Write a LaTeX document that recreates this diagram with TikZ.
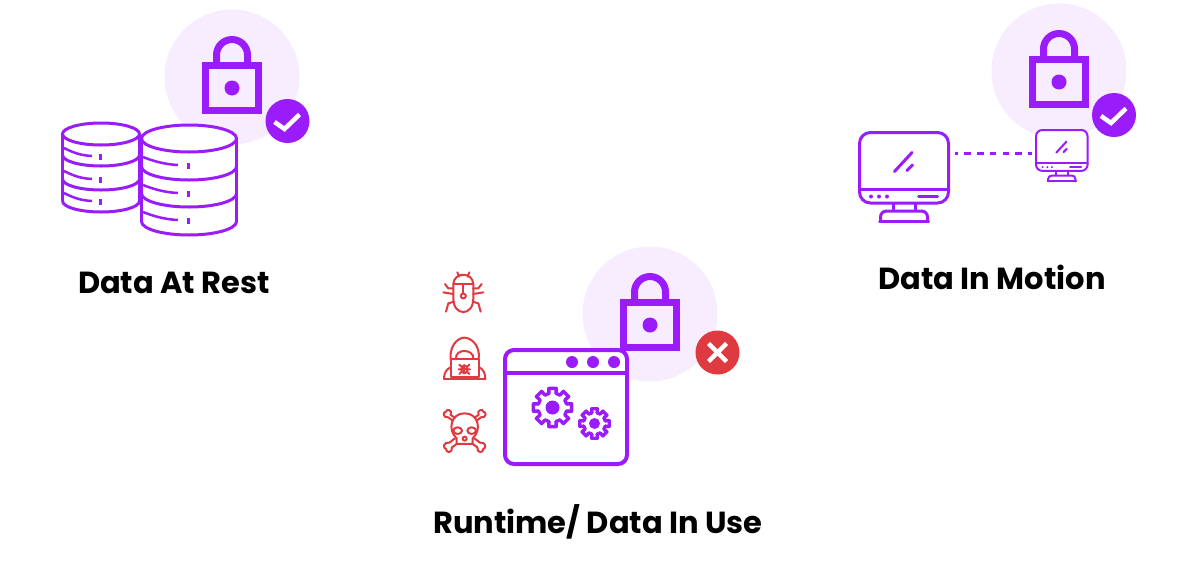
\documentclass[tikz,border=0pt]{standalone}
\usepackage{fontspec}
\setmainfont{Poppins}
\definecolor{vio}{HTML}{9B1CFB}
\definecolor{halo}{HTML}{F7EDFF}
\definecolor{alert}{HTML}{DF3A3F}
\tikzset{
  halodisc/.style={fill=halo,draw=none},
  lockline/.style={draw=vio,line width=7pt},
  badgeok/.style={circle,fill=vio,minimum size=44pt,inner sep=0pt},
  badgebad/.style={circle,fill=alert,minimum size=44pt,inner sep=0pt},
  markline/.style={draw=white,line width=4.5pt},
  vline/.style={draw=vio,line width=3pt},
  rline/.style={draw=alert,line width=2pt,line cap=round,line join=round},
  caption/.style={font=\fontsize{30.5}{34}\selectfont\bfseries,text=black,inner sep=0pt},
  ghost/.style={inner sep=0pt,draw=none,minimum width=#1},
}
\newcommand{\lockicon}[2]{%
  \begin{scope}[shift={(#1,#2)}]
    \draw[lockline] (205.5,65.5) rectangle (258.5,110.5);
    \draw[lockline] (216.5,62) -- (216.5,55) arc[start angle=180,end angle=360,radius=15.5] -- (247.5,62);
    \fill[vio] (232,88) circle (7.5);
  \end{scope}}
\newcommand{\cyl}[7]{%
  \fill[white] (#1-#3,#2) -- (#1-#3,#7) arc[start angle=180,end angle=0,x radius=#3,y radius=#4] -- (#1+#3,#2) arc[start angle=0,end angle=-180,x radius=#3,y radius=#4] -- cycle;
  \draw[vline] (#1,#2) ellipse[x radius=#3,y radius=#4];
  \draw[vline] (#1-#3,#2) -- (#1-#3,#7) (#1+#3,#2) -- (#1+#3,#7);
  \foreach \yy in {#5,#6,#7}
    \draw[vline] (#1-#3,\yy) arc[start angle=180,end angle=0,x radius=#3,y radius=#4];
}
\newcommand{\monitor}[4]{%
  \begin{scope}[shift={(#1,#2)},scale=#3,draw=vio,line width=#4,line cap=round]
    \fill[white,rounded corners=#3*10pt] (0,0) rectangle (89,70.5);
    \draw[rounded corners=#3*11pt] (0,0) rectangle (89,70.5);
    \draw (0,56.5) -- (89,56.5);
    \draw (35,39) -- (52.5,20) (47.5,38) -- (53,32.5);
    \fill[vio] (11.5,64) circle (2) (19.5,64) circle (2) (27.5,64) circle (2);
    \draw (59,64) -- (78,64);
    \draw[line cap=butt] (34,70.5) -- (34,78.5) (56,70.5) -- (56,78.5);
    \draw[rounded corners=#3*6pt] (21,88.5) -- (21,78.5) -- (68,78.5) -- (68,88.5);
    \draw (20,88.5) -- (69,88.5);
  \end{scope}}
\newcommand{\gear}[4]{%
  \begin{scope}[shift={(#1,#2)},draw=vio,line width=3.4pt,line cap=round,line join=round]
    \foreach \a in {0,45,...,315}{
      \draw (\a-14:#4) -- (\a-11:#3) -- (\a+11:#3) -- (\a+14:#4);
      \draw (\a+14:#4) -- (\a+31:#4);
    }
  \end{scope}}
\begin{document}
\begin{tikzpicture}[x=1pt,y=-1pt]
\useasboundingbox (0,0) rectangle (1200,560);
\fill[white] (0,0) rectangle (1200,560);

% --- Data at rest
\fill[halodisc] (232,77) circle (67.5);
\lockicon{0}{0}
\node[badgeok] (restbadge) at (287.5,121) {};
\draw[markline] (274.5,122) -- (284.5,129) -- (299.5,114.5);
\cyl{101}{134}{38.5}{11}{155}{179}{201}
\foreach \d in {0,23,45}{
  \draw[draw=vio,line width=2.5pt] (64,148+\d) .. controls (72,152+\d) and (80,155.5+\d) .. (92,156+\d);
  \draw[draw=vio,line width=2.5pt] (100.7,154+\d) -- (100.7,159.5+\d);
}
\cyl{189}{138.5}{47.5}{13.5}{166.5}{193.5}{221.5}
\foreach \d in {0,28,55}{
  \draw[draw=vio,line width=2.5pt] (143,157+\d) .. controls (153,161+\d) and (165,164.5+\d) .. (178,165+\d);
  \draw[draw=vio,line width=3pt] (188,163+\d) -- (188,169+\d);
}
\node[caption] (restlabel) at (174,283) {Data At Rest};

% --- Data in motion
\fill[halodisc] (1059,71) circle (67.5);
\lockicon{827}{-6}
\node[badgeok] (motionbadge) at (1114,115) {};
\draw[markline] (1101,116) -- (1111,123) -- (1126,108.5);
\monitor{859.5}{132.5}{1}{3pt}
\monitor{1036}{130}{0.58}{2pt}
\node[ghost=91pt,minimum height=73pt] (bigmon) at (904,168) {};
\node[ghost=53pt,minimum height=43pt] (smallmon) at (1062,151.5) {};
\draw[draw=vio,line width=3pt,dash pattern=on 6.5pt off 6.2pt,dash phase=3pt,shorten >=3.5pt,shorten <=5pt] (bigmon.east |- 0,153) -- (smallmon.west |- 0,153);
\node[caption] (motionlabel) at (992,277) {Data In Motion};

% --- Runtime
\fill[halodisc] (650,314) circle (67.5);
\lockicon{418}{237}
\node[badgebad] (usebadge) at (717.5,352.5) {};
\draw[draw=white,line width=4.5pt] (708.5,343.5) -- (726.5,361.5) (708.5,361.5) -- (726.5,343.5);
\draw[draw=vio,line width=4pt,fill=white,rounded corners=9pt] (505,350) rectangle (627,464);
\draw[draw=vio,line width=4pt] (505,372.5) -- (627,372.5);
\fill[vio] (572,362) circle (6) (593,362) circle (6) (614,362) circle (6);
\gear{552.5}{407.5}{19.5}{14.5}
\fill[vio] (552.5,407.5) circle (7);
\gear{594.5}{423.5}{15}{11}
\fill[vio] (594.5,423.5) circle (5.5);
\node[caption] (uselabel) at (598,522) {Runtime/ Data In Use};

% --- threats
\begin{scope}[shift={(430,260)},x=0.3333pt,y=-0.3333pt]
  % bug
  \draw[rline] (70,72) .. controls (72,35) and (128,35) .. (130,72) -- (130,115) .. controls (130,170) and (70,170) .. (70,115) -- cycle;
  \draw[rline] (70,73) -- (130,73) (100,73) -- (100,100);
  \draw[rline,fill=white] (100,108) circle (7.5);
  \draw[rline] (87,50) -- (82,37) (113,50) -- (118,37);
  \draw[rline] (70,85) -- (55,85) -- (45,72) (130,85) -- (145,85) -- (155,72);
  \draw[rline] (70,102) -- (40,97) (130,102) -- (160,97);
  \draw[rline] (72,125) -- (55,130) -- (48,155) (128,125) -- (145,130) -- (152,155);
  % hacker
  \draw[rline] (62,298) .. controls (58,255) and (85,233) .. (103,233) .. controls (122,233) and (152,255) .. (146,298);
  \draw[rline] (78,298) .. controls (76,280) and (90,273) .. (103,273) .. controls (116,273) and (132,280) .. (130,298);
  \draw[rline] (62,298) rectangle (148,350);
  \draw[rline] (42,357) -- (166,357);
  \draw[rline] (42,357) .. controls (42,340) and (48,328) .. (62,322) (166,357) .. controls (166,340) and (160,328) .. (148,322);
  \draw[rline] (103,328) ellipse[x radius=9,y radius=12];
  \draw[rline] (94,328) -- (112,328) (103,316) -- (103,340);
  \draw[rline] (94,320) -- (88,314) (112,320) -- (118,314) (94,328) -- (86,328) (112,328) -- (120,328) (94,336) -- (88,342) (112,336) -- (118,342);
  % skull
  \draw[rline] (80,535) .. controls (52,510) and (62,460) .. (104,460) .. controls (146,460) and (156,510) .. (128,535) -- (128,552) -- (80,552) -- cycle;
  \draw[rline] (83,512) ellipse[x radius=13,y radius=10];
  \draw[rline] (125,512) ellipse[x radius=13,y radius=10];
  \draw[rline] (104,536) circle (6);
  \draw[rline] (68,482) -- (55,472) .. controls (38,475) and (38,455) .. (48,455) .. controls (48,445) and (70,450) .. (62,465) -- (75,473);
  \draw[rline] (140,482) -- (153,472) .. controls (170,475) and (170,455) .. (160,455) .. controls (160,445) and (138,450) .. (146,465) -- (133,473);
  \draw[rline] (75,535) -- (58,548) .. controls (40,545) and (38,565) .. (48,567) .. controls (48,580) and (68,580) .. (66,562) -- (80,552);
  \draw[rline] (133,535) -- (150,548) .. controls (168,545) and (170,565) .. (160,567) .. controls (160,580) and (140,580) .. (142,562) -- (128,552);
\end{scope}
\end{tikzpicture}
\end{document}
